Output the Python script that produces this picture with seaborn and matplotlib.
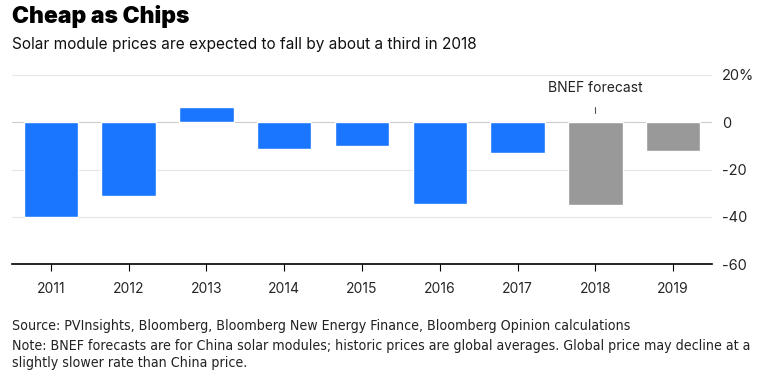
import matplotlib
matplotlib.use("Agg")
import matplotlib.pyplot as plt
import seaborn as sns
import pandas as pd

years = ["2011", "2012", "2013", "2014", "2015", "2016", "2017", "2018", "2019"]
changes = [-40.0, -31.2, 6.3, -11.3, -10.0, -34.7, -13.1, -35.2, -12.3]
kinds = ["Historic"] * 7 + ["Forecast"] * 2
y_ticks = [20, 0, -20, -40, -60]
y_tick_labels = ["20%", "0", "-20", "-40", "-60"]

df = pd.DataFrame({"year": years, "change": changes, "kind": kinds})

sns.set_theme(style="white")
plt.rcParams["font.family"] = ["Inter", "DejaVu Sans"]

fig = plt.figure(figsize=(7.66, 3.76), dpi=100)
ax = fig.add_axes([12 / 766, 1 - 264 / 376, 700 / 766, (264 - 75) / 376])

sns.barplot(data=df, x="year", y="change", hue="kind", dodge=False,
            palette={"Historic": "#1a75ff", "Forecast": "#999999"},
            width=0.7, saturation=1, legend=False, ax=ax)

ax.set_xlim(-0.5, 8.5)
ax.set_ylim(-60, 20)
ax.yaxis.tick_right()
ax.set_yticks(y_ticks)
ax.set_yticklabels(y_tick_labels)
for y in y_ticks:
    if y != -60:
        ax.axhline(y, color="#e6e6e6" if y != 0 else "#cccccc", lw=0.8, zorder=0)
ax.set_axisbelow(True)
ax.set_xlabel("")
ax.set_ylabel("")
for s in ["top", "left", "right"]:
    ax.spines[s].set_visible(False)
ax.spines["bottom"].set_color("black")
ax.spines["bottom"].set_linewidth(1.2)
ax.tick_params(axis="x", length=5, color="black", width=0.8, labelsize=10, pad=8, bottom=True)
ax.tick_params(axis="y", length=0, labelsize=10.5, pad=0)
for lab in ax.get_yticklabels():
    lab.set_horizontalalignment("left")
    lab.set_x(1.014)

# forecast annotation
ax.text(7, 14.5, "BNEF forecast", ha="center", va="center", fontsize=10, color="#222222")
ax.plot([7, 7], [6.5, 4], color="#555555", lw=0.8)

fig.text(12 / 766, 1 - 16 / 376, "Cheap as Chips", fontsize=16.5, fontweight="black",
         va="center", ha="left", color="black")
fig.text(12 / 766, 1 - 44 / 376, "Solar module prices are expected to fall by about a third in 2018",
         fontsize=11.1, va="center", ha="left", color="#111111")
foot_kw = dict(fontsize=10.2, va="center", ha="left", family="DejaVu Sans",
               stretch="condensed", color="#222222")
fig.text(12 / 766, 1 - 326 / 376,
         "Source: PVInsights, Bloomberg, Bloomberg New Energy Finance, Bloomberg Opinion calculations",
         **foot_kw)
fig.text(12 / 766, 1 - 346 / 376,
         "Note: BNEF forecasts are for China solar modules; historic prices are global averages. Global price may decline at a",
         **foot_kw)
fig.text(12 / 766, 1 - 363 / 376, "slightly slower rate than China price.", **foot_kw)

fig.savefig("out.png", dpi=100)
